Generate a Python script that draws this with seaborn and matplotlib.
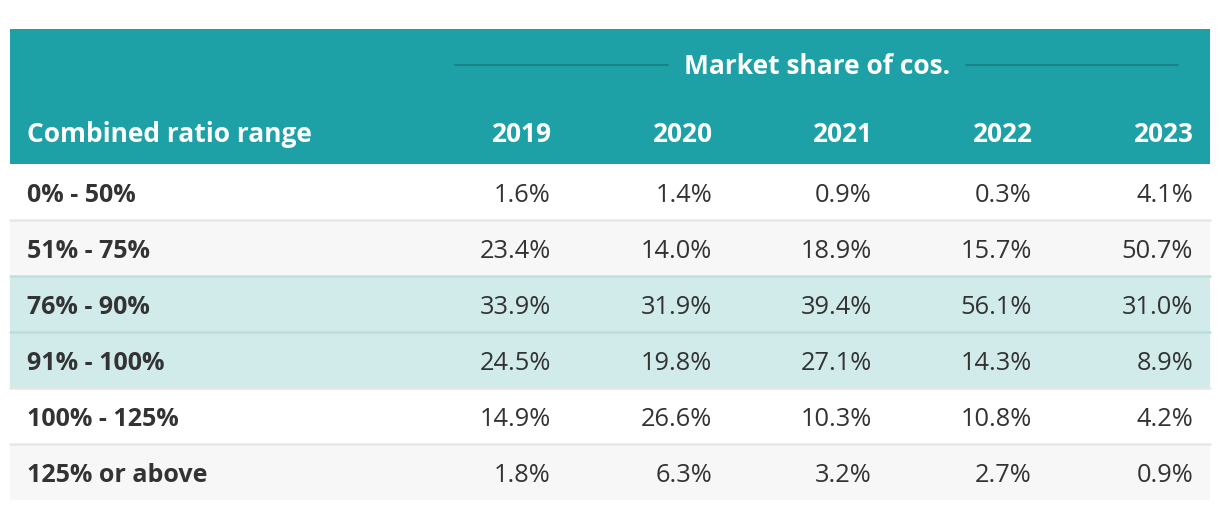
#!/usr/bin/env python3
"""
Market share table by combined ratio range, drawn as a styled table.
"""

import matplotlib.pyplot as plt
import seaborn as sns

# Data
years = ['2019', '2020', '2021', '2022', '2023']
ranges = ['0% - 50%', '51% - 75%', '76% - 90%', '91% - 100%', '100% - 125%', '125% or above']
share_2019 = [1.6, 23.4, 33.9, 24.5, 14.9, 1.8]
share_2020 = [1.4, 14.0, 31.9, 19.8, 26.6, 6.3]
share_2021 = [0.9, 18.9, 39.4, 27.1, 10.3, 3.2]
share_2022 = [0.3, 15.7, 56.1, 14.3, 10.8, 2.7]
share_2023 = [4.1, 50.7, 31.0, 8.9, 4.2, 0.9]
highlighted = ['76% - 90%', '91% - 100%']

columns = [share_2019, share_2020, share_2021, share_2022, share_2023]

sns.set_style("white")
plt.rcParams['font.family'] = ['Open Sans', 'DejaVu Sans']

TEAL = '#1ea1a6'
TEAL_DARK = '#1a7e84'
HILITE = '#d1ebeb'
ZEBRA = '#f7f7f7'
TEXT = '#333333'

fig = plt.figure(figsize=(12.2, 5.1), dpi=100)
ax = fig.add_axes([0, 0, 1, 1])
ax.set_xlim(0, 1220)
ax.set_ylim(510, 0)
ax.axis('off')

left, right = 10, 1210
head_top, head_bot = 30, 165
row_h = 56
label_x = 27
col_right = [551, 712, 872, 1032, 1193]

# Header block
ax.fill_between([left, right], head_top, head_bot, color=TEAL, lw=0)
ax.text(817, 67, 'Market share of cos.', color='white', fontsize=19,
        fontweight='bold', ha='center', va='center')
ax.plot([455, 668], [66, 66], color=TEAL_DARK, lw=1.3)
ax.plot([966, 1178], [66, 66], color=TEAL_DARK, lw=1.3)
ax.text(label_x, 135, 'Combined ratio range', color='white', fontsize=19,
        fontweight='bold', ha='left', va='center')
for x, yr in zip(col_right, years):
    ax.text(x, 135, yr, color='white', fontsize=18.9, fontweight='bold',
            ha='right', va='center')

# Body rows
for i, label in enumerate(ranges):
    top = head_bot + i * row_h
    bot = top + row_h
    if label in highlighted:
        bg = HILITE
    elif i % 2 == 1:
        bg = ZEBRA
    else:
        bg = 'white'
    ax.fill_between([left, right], top, bot, color=bg, lw=0)
    if i > 0:
        prev_hi = ranges[i - 1] in highlighted
        line_c = '#bddcdc' if (label in highlighted and prev_hi) else ('#c2dfdf' if label in highlighted else '#e6e6e6')
        ax.plot([left, right], [top, top], color=line_c, lw=1.8)
    yc = top + row_h / 2 + 2.5
    ax.text(label_x, yc, label, color=TEXT, fontsize=18, fontweight='bold',
            ha='left', va='center')
    for x, col in zip(col_right, columns):
        ax.text(x, yc, f'{col[i]:.1f}%', color=TEXT, fontsize=18.3,
                ha='right', va='center')

plt.savefig('out.png', dpi=100)
